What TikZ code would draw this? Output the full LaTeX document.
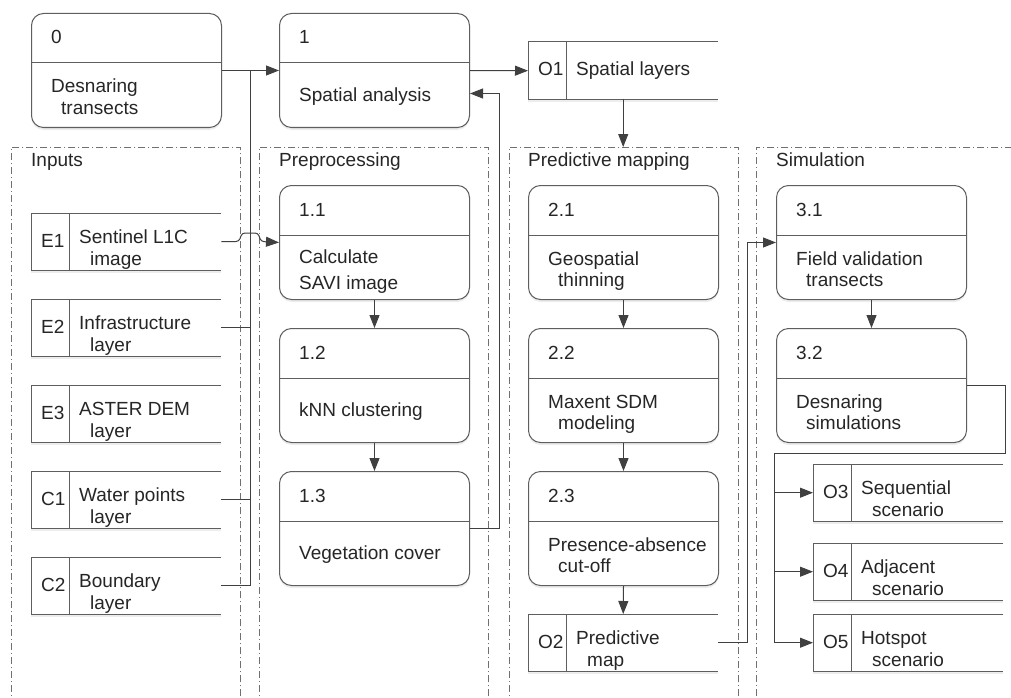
\documentclass[tikz,border=0pt]{standalone}
\usepackage{fontspec}
\setmainfont{Liberation Sans}
\usetikzlibrary{arrows.meta,calc,shadows}

\definecolor{boxcol}{HTML}{5E5E5E}
\definecolor{txtcol}{HTML}{262626}
\definecolor{lincol}{HTML}{404040}
\definecolor{grpcol}{HTML}{707070}

\tikzset{
  lbl/.style={anchor=base west, inner sep=0pt, text=txtcol,
    font=\fontsize{19}{22}\selectfont},
  shade/.style={drop shadow={shadow xshift=0pt, shadow yshift=-2.5pt,
    fill=black, opacity=0.07}},
  procbox/.style={draw=boxcol, line width=1pt, fill=white, rounded corners=12pt,
    minimum width=190pt, minimum height=114pt, anchor=north west,
    inner sep=0pt, shade},
  storebox/.style={fill=white, draw=none, minimum width=190pt,
    minimum height=57pt, anchor=north west, inner sep=0pt, shade},
  boxline/.style={draw=boxcol, line width=1pt},
  grpbox/.style={draw=grpcol, line width=0.8pt,
    dash pattern=on 7pt off 3pt on 1pt off 3pt, anchor=north west,
    minimum width=229pt, minimum height=600pt, inner sep=0pt},
  conn/.style={draw=lincol, line width=1pt},
  arr/.style={conn, -{Triangle[length=13pt,width=10pt]}},
}

% process box: name, x, y, number
\newcommand\procbox[4]{%
  \node[procbox] (#1) at (#2,#3) {};
  \draw[boxline] ($(#1.north west)+(0,50)$) -- ($(#1.north east)+(0,50)$);
  \node[lbl] (#1-n) at ($(#1.north west)+(20,31)$) {#4};
}
\newcommand\proclineone[2]{%
  \node[lbl] (#1-a) at ($(#1.north west)+(20,88.5)$) {#2};
}
\newcommand\proclinetwo[3]{%
  \node[lbl] (#1-a) at ($(#1.north west)+(20,80)$) {#2};
  \node[lbl] (#1-b) at ($(#1.north west)+(30,101)$) {#3};
}
% data store: name, x, y, id
\newcommand\storebox[4]{%
  \node[storebox] (#1) at (#2,#3) {};
  \draw[boxline] (#1.north east) -- (#1.north west) -- (#1.south west) -- (#1.south east);
  \draw[boxline] ($(#1.north west)+(38,0)$) -- ($(#1.south west)+(38,0)$);
  \node[lbl] (#1-id) at ($(#1.north west)+(10,34)$) {#4};
}
\newcommand\storetwo[3]{%
  \node[lbl] (#1-a) at ($(#1.north west)+(48,30)$) {#2};
  \node[lbl] (#1-b) at ($(#1.north west)+(59,52)$) {#3};
}

\begin{document}
\begin{tikzpicture}[x=1pt, y=-1pt]
\useasboundingbox (0,0) rectangle (1011,698);
\clip (0,0) rectangle (1011,698);
\fill[white] (0,0) rectangle (1011,698);

% lanes
\node[grpbox] (gIn)   at (11,147)  {};
\node[grpbox] (gPre)  at (259,147) {};
\node[grpbox] (gPred) at (509,147) {};
\node[grpbox, minimum width=290pt] (gSim) at (756,147) {};
\node[lbl] (gIn-t)   at (31,166)  {Inputs};
\node[lbl] (gPre-t)  at (279,166) {Preprocessing};
\node[lbl] (gPred-t) at (528,166) {Predictive mapping};
\node[lbl] (gSim-t)  at (776,166) {Simulation};

% top row
\procbox{n0}{31}{13}{0}
\proclinetwo{n0}{Desnaring}{transects}
\procbox{n1}{279}{13}{1}
\proclineone{n1}{Spatial analysis}
\storebox{o1}{528}{42}{O1}
\node[lbl] (o1-a) at ($(o1.north west)+(48,34)$) {Spatial layers};

% inputs
\storebox{e1}{31}{213}{E1}
\storetwo{e1}{Sentinel L1C}{image}
\storebox{e2}{31}{299}{E2}
\storetwo{e2}{Infrastructure}{layer}
\storebox{e3}{31}{385}{E3}
\storetwo{e3}{ASTER DEM}{layer}
\storebox{c1}{31}{471}{C1}
\storetwo{c1}{Water points}{layer}
\storebox{c2}{31}{557}{C2}
\storetwo{c2}{Boundary}{layer}

% preprocessing
\procbox{n11}{279}{185}{1.1}
\node[lbl] (n11-a) at ($(n11.north west)+(20,78)$) {Calculate};
\node[lbl] (n11-b) at ($(n11.north west)+(20,104)$) {SAVI image};
\procbox{n12}{279}{328}{1.2}
\proclineone{n12}{kNN clustering}
\procbox{n13}{279}{471}{1.3}
\proclineone{n13}{Vegetation cover}

% predictive mapping
\procbox{n21}{528}{185}{2.1}
\proclinetwo{n21}{Geospatial}{thinning}
\procbox{n22}{528}{328}{2.2}
\proclinetwo{n22}{Maxent SDM}{modeling}
\procbox{n23}{528}{471}{2.3}
\proclinetwo{n23}{Presence-absence}{cut-off}
\storebox{o2}{528}{614}{O2}
\storetwo{o2}{Predictive}{map}

% simulation
\procbox{n31}{776}{185}{3.1}
\proclinetwo{n31}{Field validation}{transects}
\procbox{n32}{776}{328}{3.2}
\proclinetwo{n32}{Desnaring}{simulations}
\storebox{o3}{813}{464}{O3}
\storetwo{o3}{Sequential}{scenario}
\storebox{o4}{813}{543}{O4}
\storetwo{o4}{Adjacent}{scenario}
\storebox{o5}{813}{614}{O5}
\storetwo{o5}{Hotspot}{scenario}

% connectors
\coordinate (busIn) at (250,70);
\draw[arr] (n0.east) -- (n1.west);
\draw[conn] (c2.east) -| (busIn);
\draw[conn] (e2.east) -- (e2.east -| busIn);
\draw[conn] (c1.east) -- (c1.east -| busIn);
\draw[arr, rounded corners=3pt] (e1.east) -- (239,241.5) -- (242,233)
  -- (258,233) -- (261,241.5) -- (n11.west);

\draw[arr] (n11.south) -- (n12.north);
\draw[arr] (n12.south) -- (n13.north);
\draw[arr] (n13.east) -- ++(29,0) |- ($(n1.east)+(0,23)$);
\draw[arr] (n1.east) -- (o1.west);
\draw[arr] (o1.south) -- (o1.south |- gPred.north);

\draw[arr] (n21.south) -- (n22.north);
\draw[arr] (n22.south) -- (n23.north);
\draw[arr] (n23.south) -- (o2.north);
\draw[arr] (o2.east) -- ++(29,0) |- (n31.west);

\draw[arr] (n31.south) -- (n32.north);
\coordinate (busOut) at (774,453);
\draw[arr] (n32.east) -- ++(38,0) |- (busOut) |- (o5.west);
\draw[arr] (o3.west -| busOut) -- (o3.west);
\draw[arr] (o4.west -| busOut) -- (o4.west);
\end{tikzpicture}
\end{document}
